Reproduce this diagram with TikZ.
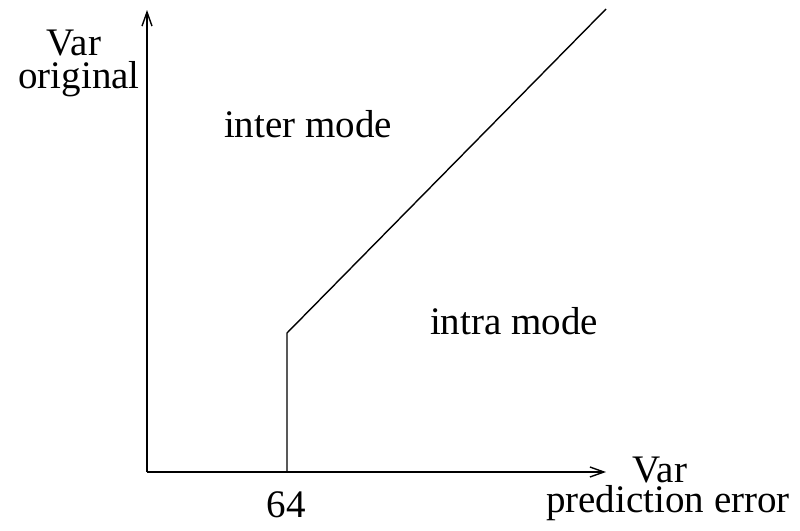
\documentclass[tikz,border=0pt]{standalone}
\usepackage{fontspec}
\setmainfont{Liberation Serif}
\usetikzlibrary{arrows.meta}
\begin{document}
\begin{tikzpicture}[x=1pt,y=-1pt,
  axis/.style={line width=1.4pt,-{Straight Barb[length=14pt,width=10pt]}},
  curve/.style={line width=1.4pt},
  lbl/.style={font=\fontsize{39}{39}\selectfont,inner sep=0pt,anchor=base}]
\useasboundingbox (0,0) rectangle (800,530);
\coordinate (O) at (147,472);
\coordinate (ytip) at (147,10);
\coordinate (xtip) at (606,472);
\coordinate (b) at (287,472);
\coordinate (k) at (287,333);
\coordinate (e) at (606,9);
\draw[axis] (O) -- (ytip);
\draw[axis] (O) -- (xtip);
\draw[curve] (b) -- (k) -- (e);
\node[lbl] (v1) at (74,55) {Var};
\node[lbl] (v2) at (79,88) {original};
\node[lbl] (inter) at (308,137) {inter mode};
\node[lbl] (intra) at (514,334) {intra mode};
\node[lbl] (v3) at (660,482) {Var};
\node[lbl] (v4) at (668,512) {prediction error};
\node[lbl] (n64) at (286,517) {64};
\end{tikzpicture}
\end{document}
